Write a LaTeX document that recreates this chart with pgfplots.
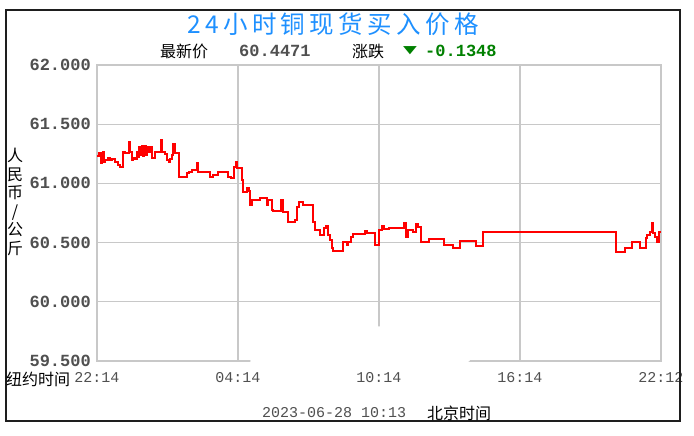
\documentclass[border=0pt]{standalone}
\usepackage{pgfplots}
\pgfplotsset{compat=1.18}
\usepackage{pgfplotstable}
\usepackage{fontspec}
\usepackage{graphicx}
\newfontfamily\cjk{Noto Sans CJK SC}
\newfontfamily\titlefont{Noto Sans CJK SC}[LetterSpace=18]
\newfontfamily\mono{Liberation Mono}
\newfontfamily\dejavu{DejaVu Sans}
\definecolor{gridgray}{RGB}{200,200,200}
\definecolor{tickgray}{RGB}{80,80,80}
\definecolor{titleblue}{RGB}{30,144,255}
\definecolor{downgreen}{RGB}{0,128,0}
\definecolor{framecol}{RGB}{30,30,30}

\pgfplotstableread{
h p
0.00 61.231
0.10 61.257
0.15 61.172
0.20 61.240
0.24 61.190
0.27 61.265
0.30 61.181
0.34 61.198
0.45 61.215
0.55 61.198
0.65 61.206
0.77 61.181
0.91 61.155
0.98 61.139
1.12 61.265
1.19 61.257
1.37 61.350
1.40 61.265
1.48 61.198
1.55 61.215
1.62 61.206
1.69 61.265
1.75 61.223
1.80 61.307
1.86 61.240
1.90 61.316
1.96 61.231
2.02 61.316
2.08 61.240
2.14 61.307
2.20 61.265
2.26 61.307
2.33 61.215
2.47 61.265
2.72 61.367
2.78 61.265
2.89 61.248
2.96 61.198
3.05 61.181
3.12 61.206
3.18 61.240
3.25 61.333
3.30 61.257
3.50 61.054
3.82 61.088
3.92 61.096
4.03 61.113
4.27 61.172
4.31 61.096
4.81 61.054
4.95 61.071
5.16 61.096
5.59 61.054
5.70 61.046
5.84 61.139
5.91 61.181
5.97 61.130
6.16 61.029
6.23 60.927
6.37 60.961
6.45 60.940
6.51 60.818
6.58 60.860
6.94 60.877
7.22 60.818
7.29 60.860
7.43 60.775
7.50 60.767
7.83 60.860
7.93 60.758
8.14 60.674
8.43 60.691
8.50 60.801
8.60 60.843
8.78 60.818
9.20 60.674
9.28 60.606
9.49 60.564
9.67 60.623
9.76 60.640
9.84 60.564
9.91 60.522
10.00 60.454
10.04 60.432
10.48 60.508
10.62 60.480
10.70 60.508
10.80 60.550
10.88 60.573
11.40 60.598
11.50 60.578
11.83 60.480
12.00 60.606
12.11 60.640
12.21 60.612
12.44 60.626
13.06 60.663
13.13 60.550
13.22 60.606
13.46 60.592
13.57 60.657
13.67 60.634
13.77 60.508
14.14 60.533
14.77 60.480
15.14 60.457
15.45 60.511
16.11 60.474
16.44 60.587
22.07 60.423
22.47 60.457
22.75 60.508
23.11 60.457
23.36 60.536
23.42 60.564
23.53 60.592
23.62 60.663
23.67 60.578
23.74 60.550
23.84 60.508
23.93 60.592
24.00 60.592
}\copperdata

\begin{document}
\begin{tikzpicture}[x=1pt,y=1pt]
\fill[white] (0,0) rectangle (694,436);
\begin{axis}[
  at={(97pt,75pt)}, anchor=south west,
  width=564pt, height=296pt, scale only axis,
  xmin=0, xmax=24, ymin=59.5, ymax=62,
  xtick={0,6,12,18,24},
  xticklabels={22:14,04:14,10:14,16:14,22:12},
  ytick={59.5,60,60.5,61,61.5,62},
  yticklabels={59.500,60.000,60.500,61.000,61.500,62.000},
  grid=major,
  grid style={gridgray, line width=1.3pt},
  axis line style={gridgray, line width=1.3pt},
  major tick length=0pt,
  xticklabel style={font=\mono\fontsize{15}{15}\selectfont, text=tickgray, anchor=base, yshift=-22pt, inner sep=0pt},
  yticklabel style={font=\mono\bfseries\fontsize{17}{17}\selectfont, text=tickgray, anchor=east, inner sep=0pt, xshift=-6pt},
  clip=true,
]
\addplot[const plot, red, line width=2pt] table[x=h, y=p] {\copperdata};
\end{axis}
% faded watermark patch
\fill[white] plot[smooth cycle] coordinates {(252,73.5) (285,90) (330,108) (405,108) (452,92) (466,73.5) (360,72)};
% frame
\draw[framecol, line width=1.6pt] (6,15) rectangle (680,426);
% title
\node[text=titleblue, inner sep=0pt] at (333,412) {\titlefont\fontsize{24.5}{24.5}\selectfont 24小时铜现货买入价格};
% subtitle
\node[anchor=west, inner sep=0pt] at (160,385) {\cjk\fontsize{16}{16}\selectfont 最新价};
\node[anchor=west, inner sep=0pt, text=tickgray] at (239,385) {\mono\bfseries\fontsize{17}{17}\selectfont 60.4471};
\node[anchor=west, inner sep=0pt] at (352,385) {\cjk\fontsize{16}{16}\selectfont 涨跌};
\node[anchor=west, inner sep=0pt, text=downgreen] at (403,385) {\dejavu\fontsize{18}{18}\selectfont\scalebox{1}[0.6]{▼}};
\node[anchor=west, inner sep=0pt, text=downgreen] at (425,385) {\mono\bfseries\fontsize{17}{17}\selectfont -0.1348};
% y label
\node[align=center, inner sep=0pt, font=\cjk\fontsize{16}{18.5}\selectfont] at (15,234) {人\\民\\币\\/\\公\\斤};
% bottom texts
\node[anchor=west, inner sep=0pt] at (6,57) {\cjk\fontsize{16}{16}\selectfont 纽约时间};
\node[anchor=west, inner sep=0pt, text=tickgray] at (262,23) {\mono\fontsize{15}{15}\selectfont 2023-06-28 10:13};
\node[anchor=west, inner sep=0pt] at (427,23) {\cjk\fontsize{16}{16}\selectfont 北京时间};
\end{tikzpicture}
\end{document}
